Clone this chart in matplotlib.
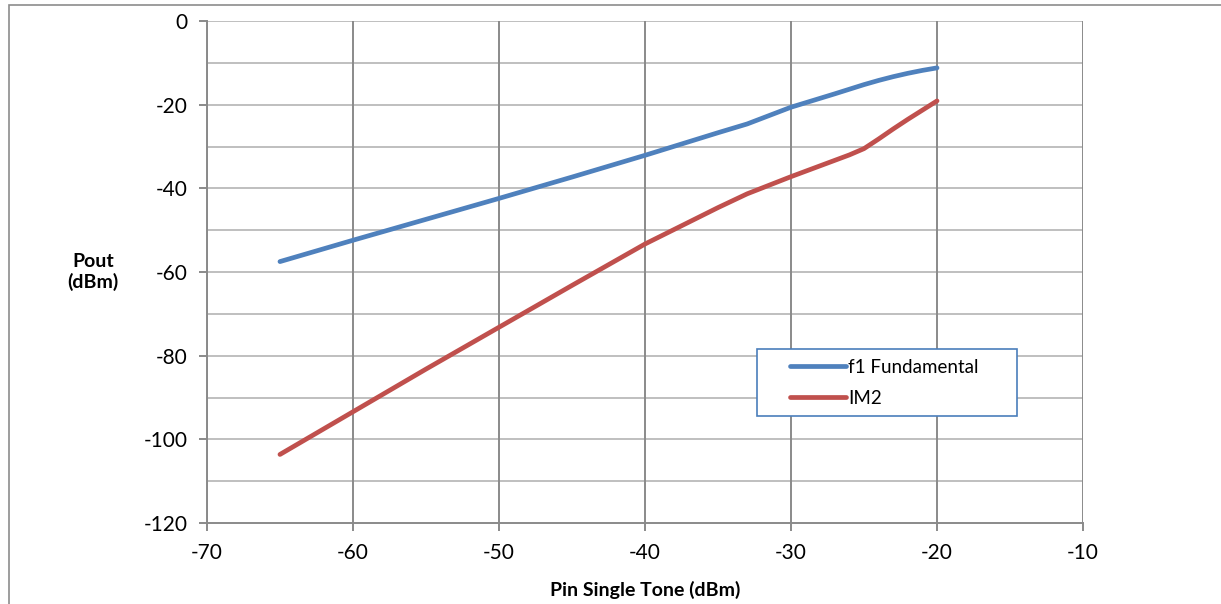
import matplotlib.pyplot as plt
from matplotlib.patches import Rectangle

pin = [-65, -60, -55, -50, -45, -40, -35, -33, -30, -27, -26, -25, -24, -23, -22, -21, -20]
f1_fundamental = [-57.5, -52.4, -47.4, -42.4, -37.3, -32.1, -26.7, -24.6, -20.6,
                  -17.4, -16.3, -15.2, -14.2, -13.3, -12.5, -11.8, -11.2]
im2 = [-103.6, -93.4, -83.2, -73.2, -63.2, -53.3, -44.6, -41.3, -37.2,
       -33.3, -32.0, -30.5, -28.2, -25.8, -23.5, -21.3, -19.1]

x_ticks = [-70, -60, -50, -40, -30, -20, -10]
y_ticks = [0, -20, -40, -60, -80, -100, -120]

plt.rcParams["font.family"] = ["Lato", "DejaVu Sans"]
plt.rcParams["axes.unicode_minus"] = False

fig = plt.figure(figsize=(12.21, 6.04), dpi=100)
ax = fig.add_axes([0.1695, 0.134, 0.7175, 0.8312])

# outer chart frame
fig.patches.append(Rectangle((9 / 1221, -0.1), 1.2, 1 - 5 / 604 + 0.1,
                             transform=fig.transFigure, fill=False,
                             edgecolor="#8c8c8c", linewidth=1.2))

ax.plot(pin, f1_fundamental, color="#4F81BD", linewidth=3.4,
        solid_capstyle="round", solid_joinstyle="round", label="f1 Fundamental")
ax.plot(pin, im2, color="#C0504D", linewidth=3.4,
        solid_capstyle="round", solid_joinstyle="round", label="IM2")

ax.set_xlim(-70, -10)
ax.set_ylim(-120, 0)
ax.set_xticks(x_ticks)
ax.set_yticks(y_ticks)

for y in range(-110, 1, 10):
    ax.axhline(y, color="#bfbfbf", linewidth=1.4, zorder=0)
for x in x_ticks:
    ax.axvline(x, color="#8a8a8a", linewidth=1.4, zorder=0)

for side in ["top", "right"]:
    ax.spines[side].set_visible(False)
for side in ["left", "bottom"]:
    ax.spines[side].set_color("#8a8a8a")
    ax.spines[side].set_linewidth(1.4)

ax.tick_params(axis="both", which="major", direction="out", length=6,
               width=1.4, color="#8a8a8a", labelsize=15, pad=8)

ax.set_xlabel("Pin Single Tone (dBm)", fontsize=14, fontweight="bold", labelpad=13)
fig.text(93 / 1221, 1 - 272 / 604, "Pout\n(dBm)", fontsize=14, fontweight="bold",
         ha="center", va="center", linespacing=1.2)

# legend entries without their own frame, boxed separately
ax.add_patch(Rectangle((0.628, 0.213), 0.297, 0.134, transform=ax.transAxes,
                       facecolor="white", edgecolor="#4a7ebb", linewidth=1.2,
                       zorder=4))
leg = ax.legend(loc="center left", bbox_to_anchor=(0.6655, 0.279),
                fontsize=13.5, frameon=False, borderaxespad=0, borderpad=0,
                handlelength=3.0, handletextpad=0.1, labelspacing=0.75)
leg.set_zorder(5)

fig.savefig("out.png", dpi=100)
